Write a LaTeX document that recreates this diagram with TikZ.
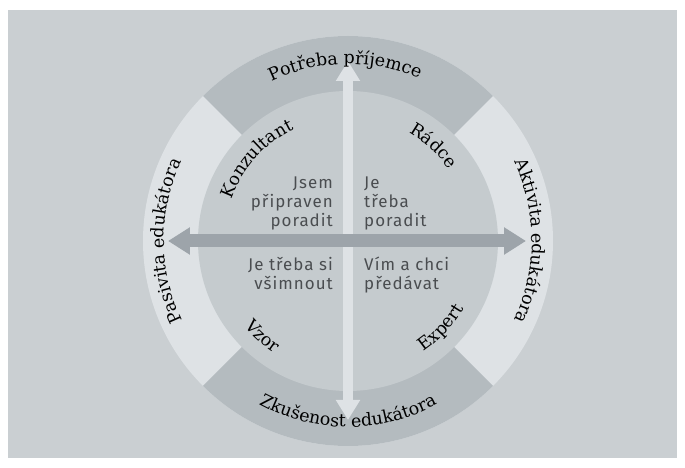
\documentclass[tikz,border=0pt]{standalone}
\usepackage{fontspec}
\setmainfont{DejaVu Serif}
\newfontfamily\quadfont[LetterSpace=6]{Fira Sans}
\usepackage{xcolor}
\usetikzlibrary{arrows.meta}
\usetikzlibrary{decorations.text}

\definecolor{bggray}{HTML}{CACFD2}
\definecolor{innergray}{HTML}{C5CBCE}
\definecolor{darkring}{HTML}{B4BBBF}
\definecolor{lightring}{HTML}{DEE2E5}
\definecolor{haxis}{HTML}{9DA4AA}
\definecolor{quadtext}{HTML}{4A4D50}

\newcommand{\ringfont}{\fontsize{17.5}{19}\selectfont}

\begin{document}
\begin{tikzpicture}[x=1bp, y=1bp, line join=round,
    ringlabel/.style={decorate, decoration={text along path, text align=center,
        text={|\ringfont|#1}}},
    quadnote/.style={inner sep=0pt, text=quadtext,
        font=\quadfont\fontsize{17}{19.5}\selectfont},
    vaxis/.style={draw=lightring, line width=10bp,
        {Triangle[length=20bp,width=23bp]}-{Triangle[length=20bp,width=23bp]}},
    haxisline/.style={draw=haxis, line width=13bp,
        {Triangle[length=22bp,width=26bp]}-{Triangle[length=22bp,width=26bp]}}]

    \useasboundingbox (-348,-227) rectangle (337,241);
    \fill[bggray] (-340,-217) rectangle (329,231);

    \fill[lightring] (0,0) circle[radius=205];
    \fill[darkring] (0,0) -- (45:205) arc[start angle=45, end angle=135, radius=205] -- cycle;
    \fill[darkring] (0,0) -- (225:205) arc[start angle=225, end angle=315, radius=205] -- cycle;
    \fill[innergray] (0,0) circle[radius=150];

    \coordinate (top) at (0,180);
    \coordinate (bottom) at (0,-179);
    \coordinate (left) at (-180,0);
    \coordinate (right) at (178,0);

    \draw[vaxis] (bottom) -- (top);
    \draw[haxisline] (left) -- (right);

    \path[ringlabel={Potřeba příjemce}] (151:177) arc[start angle=151, end angle=31, radius=177];
    \path[ringlabel={Zkušenost edukátora}] (210:186) arc[start angle=210, end angle=330, radius=186];
    \path[ringlabel={Pasivita edukátora}] (240:184) arc[start angle=240, end angle=120, radius=184];
    \path[ringlabel={Aktivita edukátora}] (60:184) arc[start angle=60, end angle=-60, radius=184];

    \path[ringlabel={Konzultant}] (183:124) arc[start angle=183, end angle=93, radius=124];
    \path[ringlabel={Rádce}] (93:124) arc[start angle=93, end angle=3, radius=124];
    \path[ringlabel={Vzor}] (183:134) arc[start angle=183, end angle=273, radius=134];
    \path[ringlabel={Expert}] (272:134) arc[start angle=272, end angle=362, radius=134];

    \node[quadnote, anchor=base east, align=right] (pripraven) at (-15,14) {Jsem\\připraven\\poradit};
    \node[quadnote, anchor=base west, align=left] (poradit) at (16,14) {Je\\třeba\\poradit};
    \node[quadnote, anchor=base east, align=right] (vsimnout) at (-15,-49) {Je třeba si\\všimnout};
    \node[quadnote, anchor=base west, align=left] (predavat) at (16,-49) {Vím a chci\\předávat};

\end{tikzpicture}
\end{document}
